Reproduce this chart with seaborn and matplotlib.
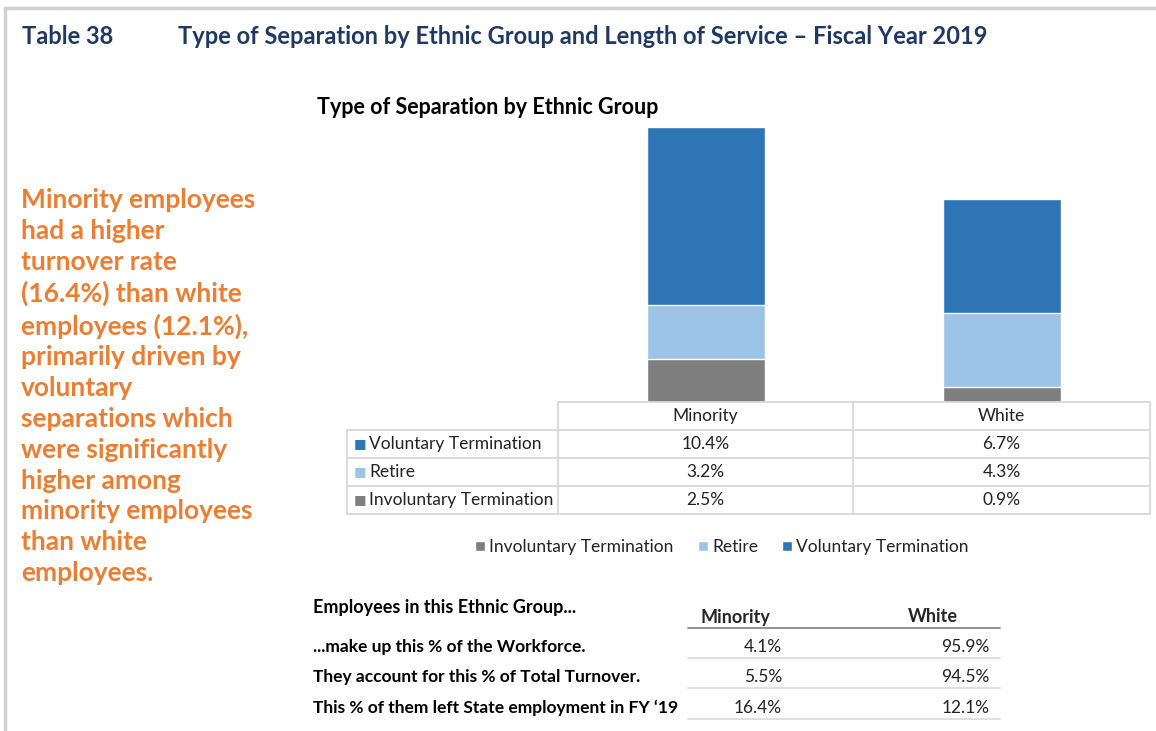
import matplotlib
matplotlib.use("Agg")
import matplotlib.pyplot as plt
import seaborn as sns
import pandas as pd
from matplotlib.lines import Line2D
from matplotlib.patches import Patch

sns.set_theme(style="white")
plt.rcParams['font.family'] = ['Lato', 'DejaVu Sans']

# data
groups = ["Minority", "White"]
involuntary = [2.5, 0.9]
retire = [3.2, 4.3]
voluntary = [10.4, 6.7]
series_names = ["Voluntary Termination", "Retire", "Involuntary Termination"]

row_labels = ["...make up this % of the Workforce.",
              "They account for this % of Total Turnover.",
              "This % of them left State employment in FY \u201819"]
workforce = [4.1, 95.9]
turnover = [5.5, 94.5]
left_pct = [16.4, 12.1]

c_vol = "#2E75B6"
c_ret = "#9DC3E6"
c_inv = "#7F7F7F"
navy = "#1F3864"
orange = "#ED7D31"
grid = "#D9D9D9"

W, H = 1156, 731
fig = plt.figure(figsize=(W / 100, H / 100), dpi=100)
fig.patch.set_facecolor("white")


def fx(x):
    return x / W


def fy(y):
    return 1 - y / H


def hline(x0, x1, y, color=grid, lw=1.3):
    fig.add_artist(Line2D([fx(x0), fx(x1)], [fy(y), fy(y)], color=color, lw=lw))


def vline(x, y0, y1, color=grid, lw=1.3):
    fig.add_artist(Line2D([fx(x), fx(x)], [fy(y0), fy(y1)], color=color, lw=lw))


# page frame
hline(5, W, 8, color="#D0D0D0", lw=2.5)
vline(5, 8, H, color="#D0D0D0", lw=2.5)

# headings
fig.text(fx(22), fy(36), "Table 38", color=navy, fontsize=17, fontweight="bold", va="center")
fig.text(fx(178), fy(36), "Type of Separation by Ethnic Group and Length of Service \u2013 Fiscal Year 2019",
         color=navy, fontsize=17, fontweight="bold", va="center")
fig.text(fx(317), fy(107), "Type of Separation by Ethnic Group", color="black",
         fontsize=15.5, fontweight="bold", va="center")

note = ("Minority employees\nhad a higher\nturnover rate\n(16.4%) than white\nemployees (12.1%),\n"
        "primarily driven by\nvoluntary\nseparations which\nwere significantly\nhigher among\n"
        "minority employees\nthan white\nemployees.")
fig.text(fx(21), fy(188), note, color=orange, fontsize=19, fontweight="bold",
         va="top", ha="left", linespacing=1.34)

# stacked bars
df = pd.DataFrame({"group": groups,
                   "inv": involuntary,
                   "ret": [a + b for a, b in zip(involuntary, retire)],
                   "vol": [a + b + c for a, b, c in zip(involuntary, retire, voluntary)]})

ax = fig.add_axes([fx(558), fy(402), fx(1150) - fx(558), (402 - 120) / H])
sns.barplot(data=df, x="group", y="vol", color=c_vol, width=0.4, ax=ax, saturation=1)
sns.barplot(data=df, x="group", y="ret", color=c_ret, width=0.4, ax=ax, saturation=1)
sns.barplot(data=df, x="group", y="inv", color=c_inv, width=0.4, ax=ax, saturation=1)
ax.set_xlim(-0.5, 1.5)
ax.set_ylim(0, 16.5)
ax.axis("off")

# data table under the bars
tcol = [347, 558, 853, 1150]
trow = [402, 430, 458, 486, 514]
hline(558, 1150, trow[0])
for y in trow[1:]:
    hline(347, 1150, y)
vline(347, 430, 514)
for x in tcol[1:]:
    vline(x, 402, 514)

fs_tab = 12.5
for i, g in enumerate(groups):
    cx = (tcol[i + 1] + tcol[i + 2]) / 2
    fig.text(fx(cx), fy(416), g, ha="center", va="center", fontsize=fs_tab, color="#222222")

table_vals = [voluntary, retire, involuntary]
table_cols = [c_vol, c_ret, c_inv]
for r, (name, vals, col) in enumerate(zip(series_names, table_vals, table_cols)):
    yc = (trow[r + 1] + trow[r + 2]) / 2
    fig.text(fx(354), fy(yc), "\u25A0", ha="left", va="center", fontsize=9.5, color=col,
             family=['DejaVu Sans'])
    fig.text(fx(369), fy(yc), name, ha="left", va="center", fontsize=fs_tab, color="#222222")
    for i, v in enumerate(vals):
        cx = (tcol[i + 1] + tcol[i + 2]) / 2
        fig.text(fx(cx), fy(yc), f"{v:.1f}%", ha="center", va="center", fontsize=fs_tab, color="#222222")

# legend
handles = [Patch(facecolor=c_inv, label="Involuntary Termination"),
           Patch(facecolor=c_ret, label="Retire"),
           Patch(facecolor=c_vol, label="Voluntary Termination")]
fig.legend(handles=handles, loc="center", bbox_to_anchor=(fx(722), fy(547)), ncol=3,
           frameon=False, fontsize=fs_tab, handlelength=0.55, handleheight=0.55,
           handletextpad=0.25, columnspacing=1.4, labelcolor="#222222")

# bottom summary table
fig.text(fx(313), fy(608), "Employees in this Ethnic Group...", fontsize=13,
         fontweight="bold", va="center", color="black")
fig.text(fx(735), fy(617), "Minority", fontsize=13, fontweight="bold", ha="center", va="center")
fig.text(fx(933), fy(617), "White", fontsize=13, fontweight="bold", ha="center", va="center")
hline(688, 1000, 628, color="#7F7F7F", lw=1.2)

row_y = [647, 677, 708]
for lab, vals, y in zip(row_labels, [workforce, turnover, left_pct], row_y):
    fig.text(fx(313), fy(y), lab, fontsize=12.5, fontweight="bold", va="center", color="black")
    fig.text(fx(782), fy(y), f"{vals[0]:.1f}%", fontsize=12.5, ha="right", va="center", color="#222222")
    fig.text(fx(990), fy(y), f"{vals[1]:.1f}%", fontsize=12.5, ha="right", va="center", color="#222222")
    hline(688, 1000, y + 11, color=grid, lw=1.2)

fig.savefig("out.png", dpi=100)
